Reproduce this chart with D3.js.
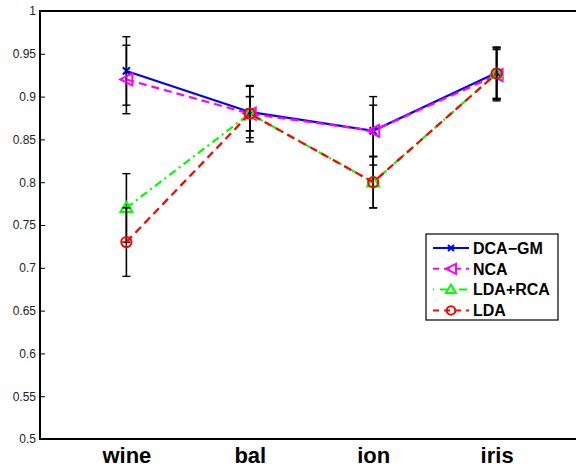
<!DOCTYPE html>
<html><head><meta charset="utf-8">
<script src="https://cdn.jsdelivr.net/npm/d3@7"></script>
<style>
html,body{margin:0;padding:0;background:#fff;}
svg{display:block;font-family:"Liberation Sans",Arial,Helvetica,sans-serif;}
</style></head>
<body>
<svg id="chart" width="576" height="468"></svg>
<script>
const categories = ["wine", "bal", "ion", "iris"];
const seriesNames = ["DCA\u2212GM", "NCA", "LDA+RCA", "LDA"];
const dcaValues = [0.930, 0.882, 0.860, 0.928];
const dcaErrors = [0.040, 0.030, 0.040, 0.030];
const ncaValues = [0.920, 0.880, 0.860, 0.925];
const ncaErrors = [0.040, 0.033, 0.030, 0.030];
const ldaRcaValues = [0.770, 0.880, 0.800, 0.927];
const ldaRcaErrors = [0.040, 0.020, 0.030, 0.030];
const ldaValues = [0.730, 0.880, 0.800, 0.927];
const ldaErrors = [0.040, 0.020, 0.030, 0.030];
const yTicks = [0.5, 0.55, 0.6, 0.65, 0.7, 0.75, 0.8, 0.85, 0.9, 0.95, 1];

(function () {
const series = [
  {name: seriesNames[0], values: dcaValues, errors: dcaErrors, color: "#0000ff", dash: null, marker: "x"},
  {name: seriesNames[1], values: ncaValues, errors: ncaErrors, color: "#ff00ff", dash: "8,5", marker: "tri-left"},
  {name: seriesNames[2], values: ldaRcaValues, errors: ldaRcaErrors, color: "#00ff00", dash: "8,4,2,4", marker: "tri-up"},
  {name: seriesNames[3], values: ldaValues, errors: ldaErrors, color: "#ff0000", dash: "8,5", marker: "circle"}
];

const svg = d3.select("#chart");
const mLeft = 40, mTop = 11, mBottom = 439, mRight = 583;
const x = d3.scaleLinear().domain([0.3, categories.length + 0.7]).range([mLeft, mRight]);
const y = d3.scaleLinear().domain([0.5, 1]).range([mBottom, mTop]);

const yAxis = d3.axisLeft(y).tickValues(yTicks).tickFormat(d => String(+d.toFixed(2))).tickSizeInner(-5).tickSizeOuter(0).tickPadding(4);
const gy = svg.append("g").attr("transform", `translate(${mLeft},0)`).call(yAxis);
gy.select(".domain").remove();
gy.selectAll("line").attr("stroke", "#000").attr("stroke-width", 1);
gy.selectAll("text").attr("font-size", 12).attr("fill", "#222");

const xAxis = d3.axisBottom(x).tickValues(categories.map((c, i) => i + 1)).tickFormat((d) => categories[d - 1]).tickSize(0).tickPadding(0);
const gx = svg.append("g").attr("transform", `translate(0,${mBottom})`).call(xAxis);
gx.select(".domain").remove();
gx.selectAll("text").attr("font-size", 22).attr("font-weight", "bold").attr("fill", "#000").attr("y", 23.5).attr("dy", "0");

svg.append("line").attr("x1", mLeft).attr("x2", 576).attr("y1", mTop).attr("y2", mTop).attr("stroke", "#000").attr("stroke-width", 2);
svg.append("line").attr("x1", mLeft).attr("x2", 576).attr("y1", mBottom).attr("y2", mBottom).attr("stroke", "#000").attr("stroke-width", 2);
svg.append("line").attr("x1", mLeft).attr("x2", mLeft).attr("y1", mTop - 1).attr("y2", mBottom + 1).attr("stroke", "#000").attr("stroke-width", 2);

function drawMarker(g, type, cx, cy, color, size) {
  const s = size / 2;
  if (type === "x") {
    g.append("path").attr("d", `M${cx - s * 0.6},${cy - s * 0.6}L${cx + s * 0.6},${cy + s * 0.6}M${cx - s * 0.6},${cy + s * 0.6}L${cx + s * 0.6},${cy - s * 0.6}`)
      .attr("stroke", color).attr("stroke-width", 2).attr("fill", "none");
  } else if (type === "tri-left") {
    g.append("path").attr("d", `M${cx - s},${cy}L${cx + s},${cy - s}L${cx + s},${cy + s}Z`)
      .attr("stroke", color).attr("stroke-width", 2).attr("fill", "none");
  } else if (type === "tri-up") {
    g.append("path").attr("d", `M${cx},${cy - s}L${cx + s},${cy + s * 0.7}L${cx - s},${cy + s * 0.7}Z`)
      .attr("stroke", color).attr("stroke-width", 2).attr("fill", "none");
  } else if (type === "circle") {
    g.append("circle").attr("cx", cx).attr("cy", cy).attr("r", s * 0.85)
      .attr("stroke", color).attr("stroke-width", 2).attr("fill", "none");
  }
}

const plot = svg.append("g");
const line = d3.line().x((d, i) => x(i + 1)).y(d => y(d));

series.forEach((s) => {
  const g = plot.append("g");
  s.values.forEach((v, i) => {
    const cx = x(i + 1), lo = y(v - s.errors[i]), hi = y(v + s.errors[i]);
    g.append("line").attr("x1", cx).attr("x2", cx).attr("y1", lo).attr("y2", hi).attr("stroke", "#000").attr("stroke-width", 1.6);
    [lo, hi].forEach(yy => g.append("line").attr("x1", cx - 4).attr("x2", cx + 4).attr("y1", yy).attr("y2", yy).attr("stroke", "#000").attr("stroke-width", 1.4));
  });
  g.append("path").datum(s.values).attr("d", line).attr("fill", "none")
    .attr("stroke", s.color).attr("stroke-width", 2.2).attr("stroke-dasharray", s.dash);
  s.values.forEach((v, i) => drawMarker(g, s.marker, x(i + 1), y(v), s.color, 12));
});

const lg = svg.append("g").attr("transform", "translate(426,234)");
lg.append("rect").attr("x", 0).attr("y", 0).attr("width", 132).attr("height", 86).attr("fill", "#fff").attr("stroke", "#000").attr("stroke-width", 1.2);
series.forEach((s, i) => {
  const yy = 14 + i * 20.8;
  lg.append("line").attr("x1", 7).attr("x2", 43).attr("y1", yy).attr("y2", yy)
    .attr("stroke", s.color).attr("stroke-width", 2).attr("stroke-dasharray", s.dash ? (s.marker === "tri-up" ? "1,6,8,4" : "6,5") : null);
  drawMarker(lg, s.marker, 25, yy, s.color, 10);
  lg.append("text").attr("x", 47).attr("y", yy).attr("dy", "0.36em").attr("font-size", 16).attr("font-weight", "bold").text(s.name);
});
})();
</script>
</body></html>
